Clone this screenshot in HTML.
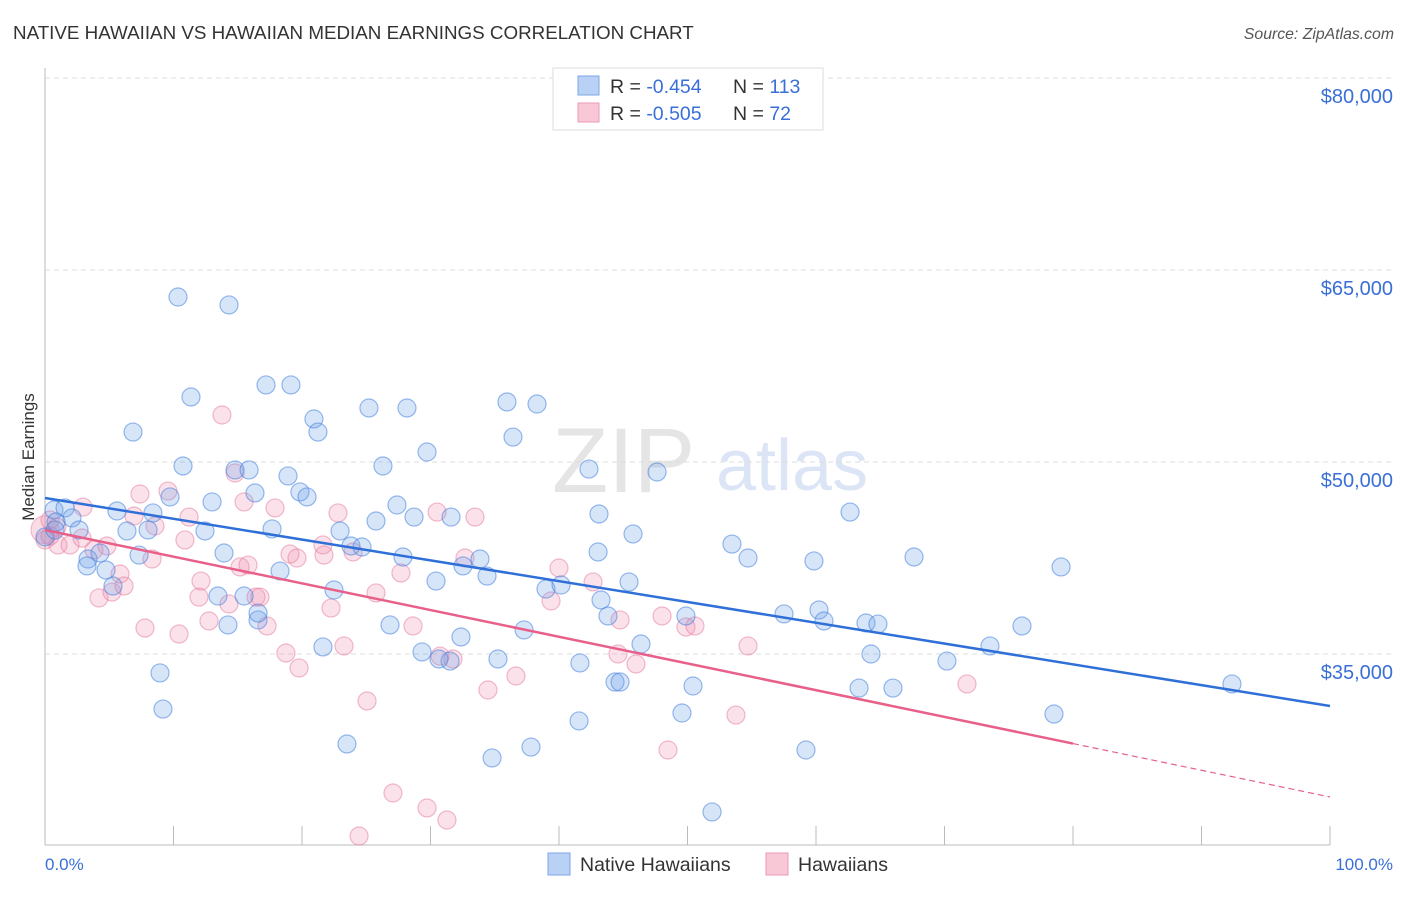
<!DOCTYPE html>
<html><head><meta charset="utf-8"><style>
body{margin:0;background:#fff;font-family:"Liberation Sans",sans-serif}
svg text{font-family:"Liberation Sans",sans-serif}
</style></head><body>
<svg id="chart" width="1406" height="892">
<text x="13" y="39" font-size="18.8" fill="#333">NATIVE HAWAIIAN VS HAWAIIAN MEDIAN EARNINGS CORRELATION CHART</text>
<text x="1394" y="39" font-size="15.8" fill="#555" text-anchor="end" font-style="italic">Source: ZipAtlas.com</text>
<g opacity="0.5">
<text x="552" y="492" font-size="92" fill="#ccc" font-family="Liberation Serif">ZIP</text>
<text x="716" y="490" font-size="72" fill="#b8cdee">atlas</text>
</g>
<g id="grid"></g>
<line x1="45" y1="68" x2="45" y2="845" stroke="#bbb"/>
<line x1="45" y1="845" x2="1330" y2="845" stroke="#bbb"/>
<g id="xticks"></g>
<text transform="translate(34,457) rotate(-90)" font-size="17" fill="#333" text-anchor="middle">Median Earnings</text>
<text x="45" y="870" font-size="17" fill="#3a6fd8">0.0%</text>
<text x="1393" y="870" font-size="17" fill="#3a6fd8" text-anchor="end">100.0%</text>
<g id="pts"></g>
<g id="lines"></g>
<g>
<rect x="553" y="68" width="270" height="62" fill="#fff" stroke="#ddd"/>
<rect x="578" y="76" width="21" height="19" fill="#b8d1f5" stroke="#7ea6e6"/>
<rect x="578" y="103" width="21" height="19" fill="#f8c8d6" stroke="#eb9ab3"/>
<text x="610" y="93" font-size="19.5" fill="#333">R = <tspan fill="#3a6fd8">-0.454</tspan><tspan x="733">N = </tspan><tspan fill="#3a6fd8">113</tspan></text>
<text x="610" y="120" font-size="19.5" fill="#333">R = <tspan fill="#3a6fd8">-0.505</tspan><tspan x="733">N = </tspan><tspan fill="#3a6fd8"> 72</tspan></text>
</g>
<g>
<rect x="548" y="853" width="22" height="22" fill="#b8d1f5" stroke="#7ea6e6"/>
<text x="580" y="871" font-size="19.5" fill="#333">Native Hawaiians</text>
<rect x="766" y="853" width="22" height="22" fill="#f8c8d6" stroke="#eb9ab3"/>
<text x="798" y="871" font-size="19.5" fill="#333">Hawaiians</text>
</g>
</svg>
<script>
const yTicks=[35,50,65,80];
const yTickLabels=["$35,000","$50,000","$65,000","$80,000"];
const xTicks=[0,10,20,30,40,50,60,70,80,90,100];
const blueX=[10.35,14.32,11.36,6.85,10.74,17.2,19.14,20.93,21.24,25.21,28.17,26.3,29.73,35.95,38.29,36.42,42.33,47.63,62.65,5.6,8.4,9.73,13.0,14.79,15.88,16.34,18.91,19.84,20.39,25.76,27.39,28.72,31.6,0.7,1.56,2.1,2.65,0.86,6.38,7.32,3.35,4.28,3.27,4.75,5.29,12.45,13.93,17.67,18.29,22.96,23.81,24.67,27.86,30.43,32.53,33.85,34.4,43.11,43.04,45.76,45.45,43.27,38.99,40.16,43.81,53.46,54.71,59.84,67.63,79.07,13.46,15.49,22.49,26.85,32.37,37.28,46.38,49.88,57.51,60.23,60.62,63.89,64.82,29.34,31.52,30.66,35.25,41.63,44.36,44.75,50.43,64.28,70.19,73.54,76.03,92.37,8.95,9.18,21.63,16.58,23.5,34.79,37.82,41.56,49.57,59.22,51.91,63.35,65.99,78.52,0,0.78,14.24,8.02,16.58];
const blueY=[62.89,62.27,55.08,52.34,49.69,56.02,56.02,53.36,52.34,54.22,54.22,49.69,50.78,54.69,54.53,51.95,49.45,49.22,46.09,46.17,46.02,47.27,46.88,49.38,49.38,47.58,48.91,47.66,47.27,45.39,46.64,45.7,45.7,46.25,46.41,45.63,44.69,45.31,44.61,42.73,42.42,42.89,41.88,41.56,40.31,44.61,42.89,44.77,41.48,44.61,43.44,43.36,42.58,40.7,41.88,42.42,41.09,45.94,42.97,44.38,40.63,39.22,40.08,40.39,37.97,43.59,42.5,42.27,42.58,41.8,39.53,39.53,40.0,37.27,36.33,36.88,35.78,37.97,38.13,38.44,37.58,37.42,37.34,35.16,34.45,34.61,34.61,34.3,32.81,32.81,32.5,35.0,34.45,35.63,37.19,32.66,33.52,30.7,35.55,37.66,27.97,26.88,27.73,29.77,30.39,27.5,22.66,32.34,32.34,30.31,44.14,44.69,37.27,44.69,38.2];
const pinkX=[13.77,14.79,9.57,7.39,15.49,17.9,2.96,6.93,8.56,11.21,22.8,30.51,33.46,32.68,0.39,0.93,0,1.01,1.95,2.88,3.81,4.82,5.84,8.33,10.89,12.14,15.18,15.8,16.42,19.07,19.61,21.63,21.71,23.97,27.7,25.76,22.26,14.32,11.98,12.76,7.78,10.43,17.28,16.73,4.2,5.21,6.15,28.64,30.74,31.75,34.47,36.65,39.38,40.0,42.65,44.75,44.59,45.99,48.02,49.88,50.58,54.71,53.77,48.48,71.75,19.77,18.75,23.27,25.06,27.08,29.73,31.28,24.44,0.39];
const pinkY=[53.67,49.14,47.73,47.5,46.88,46.41,46.48,45.78,45.0,45.7,46.02,46.09,45.7,42.5,45.47,44.92,43.91,43.52,43.52,44.06,43.13,43.44,41.25,42.42,43.91,40.7,41.8,41.95,39.45,42.81,42.5,43.52,42.73,42.97,41.33,39.77,38.59,38.91,39.45,37.58,37.03,36.56,37.19,39.45,39.38,39.84,40.31,37.19,34.84,34.61,32.19,33.28,39.14,41.72,40.63,37.66,35.0,34.22,37.97,37.11,37.19,35.63,30.23,27.5,32.66,33.91,35.08,35.63,31.33,24.14,22.97,22.03,20.78,44.22];
const blueTrend=[47.19,30.94];
const pinkTrend=[44.69,23.83];
const pinkSolidEnd=80;

const NS="http://www.w3.org/2000/svg";
const xs=v=>45+v*12.85;
const ys=v=>78+(80-v)*12.8;
function mk(tag,attrs,parent){const e=document.createElementNS(NS,tag);for(const k in attrs)e.setAttribute(k,attrs[k]);parent.appendChild(e);return e;}
const grid=document.getElementById('grid');
yTicks.forEach((t,i)=>{
 const l=mk('line',{x1:45,x2:1394,y1:ys(t),y2:ys(t),stroke:'#ddd','stroke-dasharray':'5,4'},grid);
 
 
 const tx=mk('text',{x:1393,y:ys(t)+25,'font-size':20,fill:'#3a6fd8','text-anchor':'end'},grid);
 tx.textContent=yTickLabels[i];
 
 
});
const xt=document.getElementById('xticks');
xTicks.forEach(t=>{
 const l=mk('line',{x1:xs(t),x2:xs(t),y1:826,y2:845,stroke:'#bbb'},xt);
 
 
});
const pts=document.getElementById('pts');
const big=mk('circle',{cx:xs(0),cy:ys(44.7),r:14,fill:'rgba(235,140,170,0.3)',stroke:'rgba(225,120,155,0.5)'},pts);


pinkX.forEach((x,i)=>{
 const c=mk('circle',{cx:xs(x),cy:ys(pinkY[i]),r:9,fill:'rgba(240,140,170,0.25)',stroke:'rgba(228,120,155,0.5)','stroke-width':1.2},pts);
 
 
});
blueX.forEach((x,i)=>{
 const c=mk('circle',{cx:xs(x),cy:ys(blueY[i]),r:9,fill:'rgba(110,160,235,0.28)',stroke:'rgba(70,130,220,0.55)','stroke-width':1.2},pts);
 
 
});
const ln=document.getElementById('lines');
const bl=mk('line',{x1:xs(0),y1:ys(blueTrend[0]),x2:xs(100),y2:ys(blueTrend[1]),stroke:'#2f6fd8','stroke-width':2.5},ln);


const pm=pinkTrend[0]+(pinkTrend[1]-pinkTrend[0])*pinkSolidEnd/100;
const pl=mk('line',{x1:xs(0),y1:ys(pinkTrend[0]),x2:xs(pinkSolidEnd),y2:ys(pm),stroke:'#e8608a','stroke-width':2.5},ln);


const pd=mk('line',{x1:xs(pinkSolidEnd),y1:ys(pm),x2:xs(100),y2:ys(pinkTrend[1]),stroke:'#e8608a','stroke-width':1.2,'stroke-dasharray':'6,4'},ln);


</script>
</body></html>
